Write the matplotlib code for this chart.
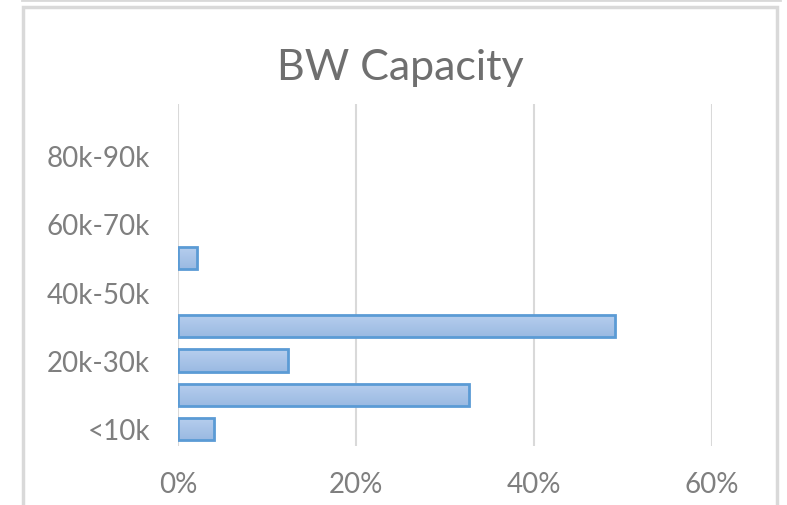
import numpy as np
import matplotlib.pyplot as plt
from matplotlib.colors import LinearSegmentedColormap
from matplotlib.lines import Line2D
from matplotlib.patches import Rectangle

plt.rcParams['font.family'] = ['Lato', 'DejaVu Sans']

# data
categories = ['<10k', '10k-20k', '20k-30k', '30k-40k', '40k-50k',
              '50k-60k', '60k-70k', '70k-80k', '80k-90k', '>90k']
shown_labels = ['<10k', '', '20k-30k', '', '40k-50k', '', '60k-70k', '', '80k-90k', '']
shares = [0.040, 0.327, 0.124, 0.491, 0.0, 0.021, 0.0, 0.0, 0.0, 0.0]
x_ticks = [0, 0.2, 0.4, 0.6]
x_labels = ['0%', '20%', '40%', '60%']

W, H = 787, 506
fig = plt.figure(figsize=(W / 100, H / 100), dpi=100)
ax = fig.add_axes([178 / W, 1 - 447 / H, (712 - 178) / W, (447 - 105) / H])

y = np.arange(len(categories))
bars = ax.barh(y, shares, height=0.65, color='none', edgecolor='#5b9bd5',
               linewidth=2, zorder=3)

# soft vertical gradient inside bars
cmap = LinearSegmentedColormap.from_list('bw', ['#b7cfee', '#9ab9e2'])
grad = np.linspace(0, 1, 64).reshape(-1, 1)
for b in bars:
    if b.get_width() <= 0:
        b.set_visible(False)
        continue
    x0, y0 = b.get_x(), b.get_y()
    im = ax.imshow(grad, cmap=cmap, aspect='auto', origin='upper',
                   extent=[x0, x0 + b.get_width(), y0, y0 + b.get_height()],
                   zorder=2)
    im.set_clip_path(b)

ax.set_xlim(0, 0.6)
ax.set_ylim(-0.5, len(categories) - 0.5)
ax.set_xticks(x_ticks)
ax.set_xticklabels(x_labels)
ax.set_yticks(y)
ax.set_yticklabels(shown_labels)
ax.tick_params(length=0, labelsize=20, colors='#7f7f7f')
ax.tick_params(axis='x', pad=18)
ax.tick_params(axis='y', pad=20)
ax.grid(axis='x', color='#d9d9d9', linewidth=1.5, zorder=0)
for s in ax.spines.values():
    s.set_visible(False)

fig.text(400 / W, 1 - 68 / H, 'BW Capacity', ha='center', va='center',
         fontsize=31, color='#6f6f6f')

# chart border
fig.add_artist(Line2D([22 / W, 780 / W], [1 - 1 / H, 1 - 1 / H],
                      transform=fig.transFigure, color='#d9d9d9', linewidth=2))
fig.add_artist(Rectangle((23 / W, -0.05), (777 - 23) / W, 1.05 - 8 / H,
                         transform=fig.transFigure, fill=False,
                         edgecolor='#d9d9d9', linewidth=2.5))

fig.savefig('out.png', dpi=100)
